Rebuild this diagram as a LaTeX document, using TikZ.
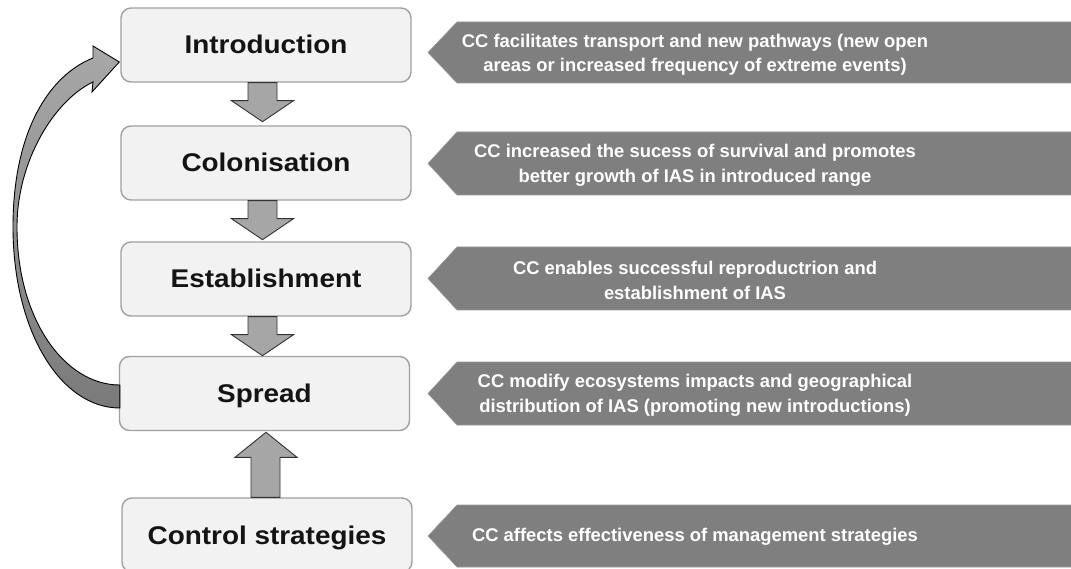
\documentclass[tikz,border=0pt]{standalone}
\usepackage{fontspec}
\setmainfont{Liberation Sans}
\newfontfamily\boxfont{Liberation Sans}[FakeStretch=1.09]
\usetikzlibrary{calc}
\definecolor{boxfill}{HTML}{F2F2F2}
\definecolor{boxline}{HTML}{A0A0A0}
\definecolor{blockfill}{HTML}{A6A6A6}
\definecolor{blockline}{HTML}{333333}
\definecolor{bannerfill}{HTML}{7F7F7F}
\definecolor{curvetop}{HTML}{A8A8A8}
\definecolor{curvebot}{HTML}{7A7A7A}
\definecolor{boxtext}{HTML}{141414}
\tikzset{
  stagebox/.style={draw=boxline, line width=1.4pt, fill=boxfill, rounded corners=10pt,
    minimum width=290pt, minimum height=74pt, inner sep=0pt,
    text height=18pt, text depth=0pt, text=boxtext,
    font=\boxfont\bfseries\fontsize{25.6pt}{30pt}\selectfont},
  blockarrow/.style={fill=blockfill, draw=blockline, line width=0.9pt, line join=miter},
  banner/.style={fill=bannerfill, draw=bannerfill!80!white, line width=0.6pt},
  bannertext/.style={text=white, align=center, inner sep=0pt,
    font=\bfseries\fontsize{18.4pt}{24.5pt}\selectfont},
  curvearrow/.style={top color=curvetop, bottom color=curvebot, draw=black, line width=0.9pt}
}
\newcommand{\dnarrow}[1]{%
  \draw[blockarrow] ($(#1.south)+(-18,0)$) -- ++(29,0) -- ++(0,18) -- ++(16.5,0)
    -- ++(-31,21) -- ++(-31,-21) -- ++(16.5,0) -- cycle;}
\newcommand{\bannershape}[2]{%
  \draw[banner] (1085,#1) -- (457,#1) -- (428,{(#1+#2)/2}) -- (457,#2) -- (1085,#2) -- cycle;}
\begin{document}
\begin{tikzpicture}[x=1pt,y=-1pt]
\useasboundingbox (0,0) rectangle (1071,569);
\clip (0,0) rectangle (1071,569);

% stage boxes
\node[stagebox] (intro) at (266,45) {Introduction};
\node[stagebox] (colon) at (266,163) {Colonisation};
\node[stagebox] (estab) at (266,279) {Establishment};
\node[stagebox] (spread) at (264.5,393.5) {Spread};
\node[stagebox] (control) at (267,535) {Control strategies};

% block arrows down
\dnarrow{intro}
\dnarrow{colon}
\dnarrow{estab}

% block arrow up
\draw[blockarrow] ($(control.north)+(-16,0)$) -- ++(29,0) -- ++(0,-40) -- ++(17,0)
  -- ++(-31,-25) -- ++(-31,25) -- ++(16,0) -- cycle;

% curved return arrow
\draw[curvearrow] ($(spread.west)+(1,14.5)$) .. controls (60,408) and (13,330) .. (13,227)
  .. controls (13,130) and (50,75) .. (93,58) -- (93,46) -- ($(intro.west)+(-1,17)$)
  -- (92,92) -- (93,82) .. controls (55,100) and (17,160) .. (17,227)
  .. controls (17,320) and (65,385) .. ($(spread.west)+(1,-8.5)$) -- cycle;

% banners
\bannershape{22}{83}
\bannershape{132}{195}
\bannershape{247}{310}
\bannershape{362}{425}
\bannershape{505}{567}

\node[bannertext] (t1) at (695,54.5) {CC facilitates transport and new pathways (new open\\areas or increased frequency of extreme events)};
\node[bannertext] (t2) at (695,165.5) {CC increased the sucess of survival and promotes\\better growth of IAS in introduced range};
\node[bannertext] (t3) at (695,280.5) {CC enables successful reproductrion and\\establishment of IAS};
\node[bannertext] (t4) at (695,395.5) {CC modify ecosystems impacts and geographical\\distribution of IAS (promoting new introductions)};
\node[bannertext] (t5) at (695,537) {CC affects effectiveness of management strategies};
\end{tikzpicture}
\end{document}
